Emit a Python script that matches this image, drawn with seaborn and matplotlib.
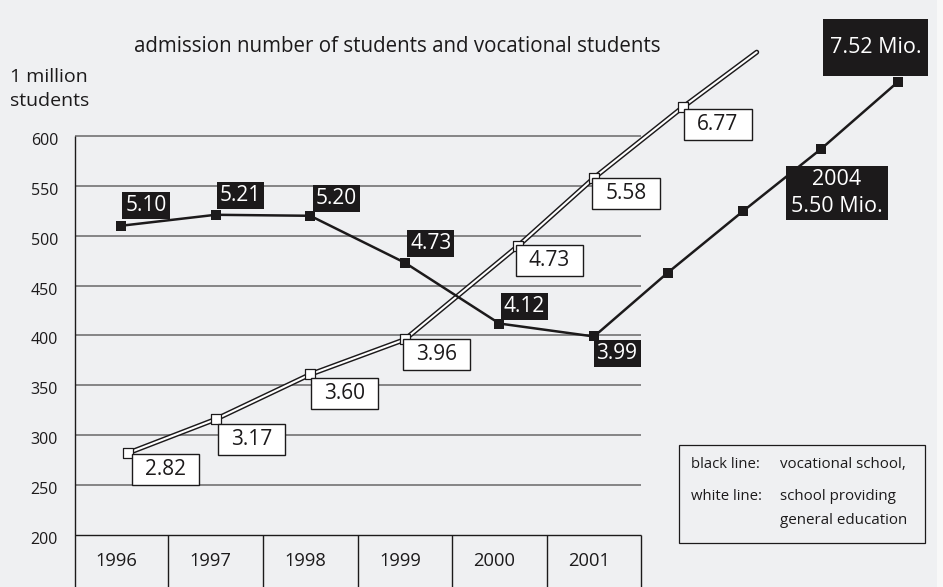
import matplotlib
matplotlib.use('Agg')
import matplotlib.pyplot as plt
import matplotlib.patheffects as pe
from matplotlib.path import Path
from matplotlib.patches import Rectangle
import seaborn as sns

# ── data (axis unit = 10,000 students) ──────────────────────────────
years = [1996, 1997, 1998, 1999, 2000, 2001]
y_ticks = [200, 250, 300, 350, 400, 450, 500, 550, 600]

vocational = [510, 521, 520, 473, 412, 399]
vocational_labels = ['5.10', '5.21', '5.20', '4.73', '4.12', '3.99']
# schematic continuation up to 2004 (not to scale in the original)
vocational_proj_x = [2001.78, 2002.58, 2003.40, 2004.21]
vocational_proj = [463, 525, 587, 654]

general_x = [1996.07, 1997, 1998, 1999, 2000.2, 2001, 2001.94]
general = [282, 316, 361, 396, 490, 558, 629]
general_labels = ['2.82', '3.17', '3.60', '3.96', '4.73', '5.58', '6.77']
general_end_x = 2002.72
general_end = 684

BG = '#eff0f2'
INK = '#1c1a1b'
GRID = '#737373'


def pad_box(px, py):
    # rectangular label box with separate horizontal / vertical padding (pixels)
    def box(x0, y0, width, height, mutation_size):
        return Path([(x0 - px, y0 - py), (x0 + width + px, y0 - py),
                     (x0 + width + px, y0 + height + py), (x0 - px, y0 + height + py),
                     (x0 - px, y0 - py)], closed=True)
    return box


sns.set_theme(style='white')
plt.rcParams['font.family'] = ['Open Sans', 'DejaVu Sans']

fig = plt.figure(figsize=(9.43, 5.87), dpi=100)
fig.patch.set_facecolor(BG)
W, H = 943, 587
# lighter strip at the right edge of the scan
fig.patches.append(Rectangle((937 / W, 0), 6 / W, 1, transform=fig.transFigure,
                             fc='#f8f8f8', ec='none', zorder=0))
ax = fig.add_axes([0, 0, 1, 1])
ax.patch.set_alpha(0)

x_left, x_right = years[0] - 0.486, years[-1] + 0.5

# grid + frame
ax.hlines(y_ticks[1:], x_left, x_right, color=GRID, lw=1.2, zorder=1)
ax.hlines([y_ticks[0]], x_left, x_right, color=INK, lw=1.0, zorder=1)
ax.vlines([x_left], 147.9, y_ticks[-1], color=INK, lw=1.0, zorder=1)
ax.vlines([y + 0.5 for y in years], 147.9, y_ticks[0], color=INK, lw=1.0, zorder=1)

for v in y_ticks:
    ax.annotate(str(v), (x_left, v), xytext=(-17, -5), textcoords='offset pixels',
                ha='right', va='center', fontsize=11.5, color=INK)
for y in years:
    ax.annotate(str(y), (y, y_ticks[0]), xytext=(-5, -26), textcoords='offset pixels',
                ha='center', va='center', fontsize=13.2, color=INK)

# white line (general education): black outline with white core
sns.lineplot(x=general_x + [general_end_x], y=general + [general_end], ax=ax,
             color='white', lw=1.5, sort=False, zorder=3,
             path_effects=[pe.Stroke(linewidth=3.6, foreground=INK), pe.Normal()])
sns.scatterplot(x=general_x, y=general, ax=ax, marker='s', s=50, color='white',
                edgecolor=INK, linewidth=0.9, zorder=4)

# black line (vocational school)
sns.lineplot(x=years + vocational_proj_x, y=vocational + vocational_proj, ax=ax,
             color=INK, lw=1.8, sort=False, marker='s', markersize=6.5,
             markeredgewidth=0, zorder=5)

# value labels
black_off = [(25, 20), (25, 19), (26, 17), (26, 19), (25, 17), (23, -17)]
for x, v, lab, off in zip(years, vocational, vocational_labels, black_off):
    ax.annotate(lab, (x, v), xytext=off, textcoords='offset pixels', ha='center',
                va='center', fontsize=15, color='white', zorder=7,
                bbox=dict(boxstyle=pad_box(3, 3), fc=INK, ec='none'))

white_off = [(38, -16), (36, -20), (34, -19), (32, -15), (31, -15), (32, -16), (35, -17)]
for x, v, lab, off in zip(general_x, general, general_labels, white_off):
    ax.annotate(lab, (x, v), xytext=off, textcoords='offset pixels', ha='center',
                va='center', fontsize=15, color=INK, zorder=7,
                bbox=dict(boxstyle=pad_box(13, 5), fc='white', ec=INK, lw=1.0))

ax.annotate('7.52 Mio.', (vocational_proj_x[-1], vocational_proj[-1]), xytext=(-22, 35),
            textcoords='offset pixels', ha='center', va='center', fontsize=15.5,
            color='white', zorder=7, bbox=dict(boxstyle=pad_box(7, 18), fc=INK, ec='none'))
ax.annotate('2004\n5.50 Mio.', (vocational_proj_x[2], vocational_proj[2]), xytext=(16, -44),
            textcoords='offset pixels', ha='center', va='center', fontsize=15.5,
            color='white', linespacing=1.4, zorder=7,
            bbox=dict(boxstyle=pad_box(5, 3), fc=INK, ec='none'))

ax.set_xlim(1994.721, 2004.689)
ax.set_ylim(147.9, 736.3)
ax.axis('off')

# titles
fig.text(397 / W, 1 - 47 / H, 'admission number of students and vocational students',
         ha='center', va='center', fontsize=14.8, color=INK)
fig.text(10 / W, 1 - 89 / H, '1 million\nstudents', ha='left', va='center',
         fontsize=14, color=INK, linespacing=1.45)

# key box
fig.patches.append(Rectangle((679 / W, 1 - 543 / H), 246 / W, 98 / H,
                             transform=fig.transFigure, fc='none', ec=INK, lw=0.9))
fig.text(691 / W, 1 - 465 / H, 'black line:', va='center', fontsize=10.7, color=INK)
fig.text(780 / W, 1 - 465 / H, 'vocational school,', va='center', fontsize=10.9, color=INK)
fig.text(691 / W, 1 - 496 / H, 'white line:', va='center', fontsize=10.7, color=INK)
fig.text(780 / W, 1 - 496 / H, 'school providing', va='center', fontsize=10.9, color=INK)
fig.text(780 / W, 1 - 520 / H, 'general education', va='center', fontsize=10.9, color=INK)

fig.savefig('out.png', dpi=100, facecolor=BG)
